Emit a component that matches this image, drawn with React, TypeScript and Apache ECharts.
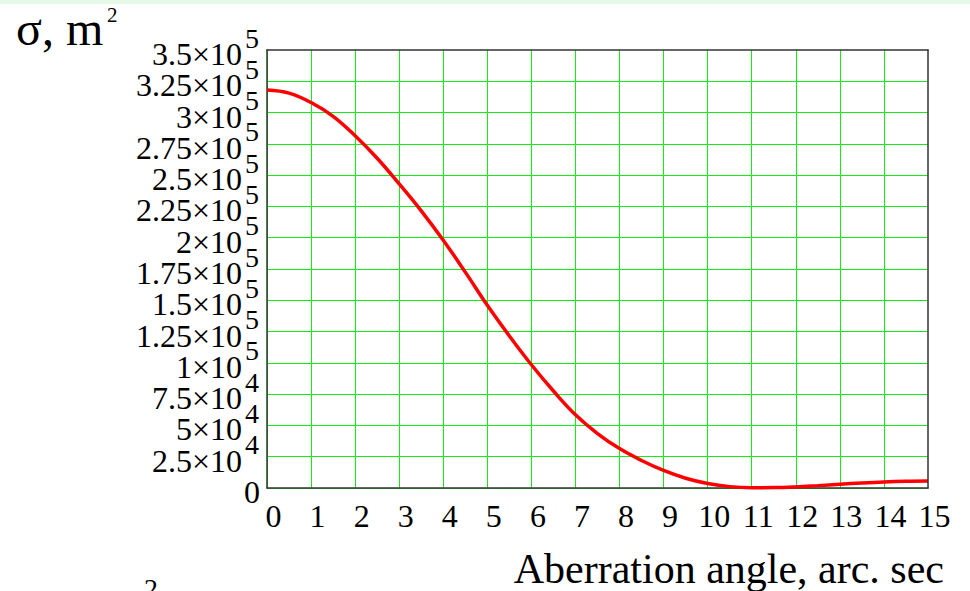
import React, { useEffect, useRef } from "react";
import * as echarts from "echarts";

const angles: number[] = [0, 0.5, 1, 1.5, 2, 2.5, 3, 3.5, 4, 4.5, 5, 5.5, 6, 6.5, 7, 7.5, 8, 8.5, 9, 9.5, 10, 10.5, 11, 11.5, 12, 12.5, 13, 13.5, 14, 14.5, 15];
const sigma: number[] = [318000, 315500, 308000, 297000, 281500, 263500, 243000, 221500, 198000, 172500, 146000, 121500, 98500, 77500, 58500, 43500, 31500, 22000, 14000, 7800, 3600, 1100, 200, 300, 900, 1900, 3000, 4000, 4800, 5300, 5500];

const yMin = 0;
const yMax = 350000;
const yStep = 25000;
const xMin = 0;
const xMax = 15;
const xStep = 1;

const xTitle = "Aberration angle, arc. sec";
const yTitle = "σ, m";
const yTitleSup = "2";

const SERIF = '"Liberation Serif", "Times New Roman", serif';
const AXIS_COLOR = "#333333";
const GRID_COLOR = "#11ee11";

function exponentOf(v: number): number {
  return Math.floor(Math.log10(v) + 1e-9);
}

function mantissaLabel(v: number): string {
  if (v === 0) return "{z|0}";
  const e = exponentOf(v);
  const mant = Number((v / Math.pow(10, e)).toFixed(2));
  return `{p|${mant}×10}`;
}

function exponentLabel(v: number): string {
  if (v <= 0) return "";
  return String(exponentOf(v));
}

const mantissaRich = {
  p: {
    color: "#000",
    fontFamily: SERIF,
    fontSize: 32,
    lineHeight: 20,
    padding: [0, 18, 0, 0],
  },
  z: {
    color: "#000",
    fontFamily: SERIF,
    fontSize: 32,
    lineHeight: 20,
  },
};

export default function App() {
  const ref = useRef<HTMLDivElement>(null);
  useEffect(() => {
    if (!ref.current) return;
    const chart = echarts.init(ref.current, undefined, { renderer: "svg" });
    const frameLine = { show: true, onZero: false, lineStyle: { color: AXIS_COLOR, width: 1.5 } };
    const gridSplit = { show: true, showMaxLine: false, lineStyle: { color: GRID_COLOR, width: 1 } };
    const hiddenX = (gridIndex: number) => ({
      type: "value",
      gridIndex,
      show: false,
      min: xMin,
      max: xMax,
      interval: xStep,
    });
    const labelOnlyY = (gridIndex: number, interval: number, axisLabel: any) => ({
      type: "value",
      gridIndex,
      position: "left",
      offset: 0,
      min: yMin,
      max: yMax,
      interval,
      axisLine: { show: false },
      axisTick: { show: false },
      splitLine: { show: false },
      axisLabel,
    });
    chart.setOption({
      animation: false,
      backgroundColor: "#ffffff",
      grid: [
        { left: 267, right: 42, top: 50, bottom: 103 },
        { left: 267, right: 42, top: 38, bottom: 115 },
        { left: 267, right: 42, top: 54, bottom: 99 },
      ],
      xAxis: [
        {
          type: "value",
          gridIndex: 0,
          min: xMin,
          max: xMax,
          interval: xStep,
          axisLine: frameLine,
          axisTick: { show: false },
          splitLine: gridSplit,
          axisLabel: {
            color: "#000",
            fontFamily: SERIF,
            fontSize: 32,
            margin: 12,
            padding: [0, 0, 0, 13],
            showMinLabel: true,
            showMaxLabel: true,
          },
        },
        {
          type: "value",
          gridIndex: 0,
          position: "top",
          z: 5,
          min: xMin,
          max: xMax,
          interval: xStep,
          axisLine: frameLine,
          axisTick: { show: false },
          splitLine: { show: false },
          axisLabel: { show: false },
        },
        hiddenX(1),
        hiddenX(2),
      ],
      yAxis: [
        {
          type: "value",
          gridIndex: 0,
          position: "left",
          min: yMin,
          max: yMax,
          interval: yStep,
          axisLine: frameLine,
          axisTick: { show: false },
          splitLine: gridSplit,
          axisLabel: { show: false },
        },
        {
          type: "value",
          gridIndex: 0,
          position: "right",
          z: 5,
          min: yMin,
          max: yMax,
          interval: yStep,
          axisLine: frameLine,
          axisTick: { show: false },
          splitLine: { show: false },
          axisLabel: { show: false },
        },
        labelOnlyY(1, yStep, {
          margin: 8,
          showMinLabel: true,
          showMaxLabel: true,
          color: "#000",
          fontFamily: SERIF,
          fontSize: 28,
          lineHeight: 20,
          formatter: (v: number) => exponentLabel(v),
        }),
        labelOnlyY(2, yStep, {
          margin: 7,
          showMinLabel: false,
          showMaxLabel: false,
          formatter: (v: number) => mantissaLabel(v),
          rich: mantissaRich,
        }),
        labelOnlyY(2, yMax - yMin, {
          margin: 7,
          showMinLabel: true,
          showMaxLabel: true,
          formatter: (v: number) => mantissaLabel(v),
          rich: mantissaRich,
        }),
      ],
      graphic: [
        {
          type: "rect",
          left: 0,
          top: 0,
          shape: { width: 970, height: 4 },
          style: { fill: "#e6f8e6" },
          silent: true,
        },
        {
          type: "text",
          left: 16,
          top: 4,
          style: { text: yTitle, font: `48px ${SERIF}`, fill: "#000" },
        },
        {
          type: "text",
          left: 107,
          top: 4,
          style: { text: yTitleSup, font: `21px ${SERIF}`, fill: "#000" },
        },
        {
          type: "text",
          right: 26,
          top: 548,
          style: { text: xTitle, font: `42px ${SERIF}`, fill: "#000" },
        },
        {
          type: "text",
          left: 144,
          top: 574,
          style: { text: "2", font: `28px ${SERIF}`, fill: "#000" },
        },
      ],
      series: [
        {
          type: "line",
          xAxisIndex: 0,
          yAxisIndex: 0,
          data: angles.map((a, i) => [a, sigma[i]]),
          smooth: 0.4,
          showSymbol: false,
          lineStyle: { color: "#ff0000", width: 3.5 },
          clip: false,
        },
      ],
    });
    return () => chart.dispose();
  }, []);
  return (
    <div
      ref={ref}
      style={{ position: "fixed", left: 0, top: 0, width: 970, height: 591 }}
    />
  );
}
